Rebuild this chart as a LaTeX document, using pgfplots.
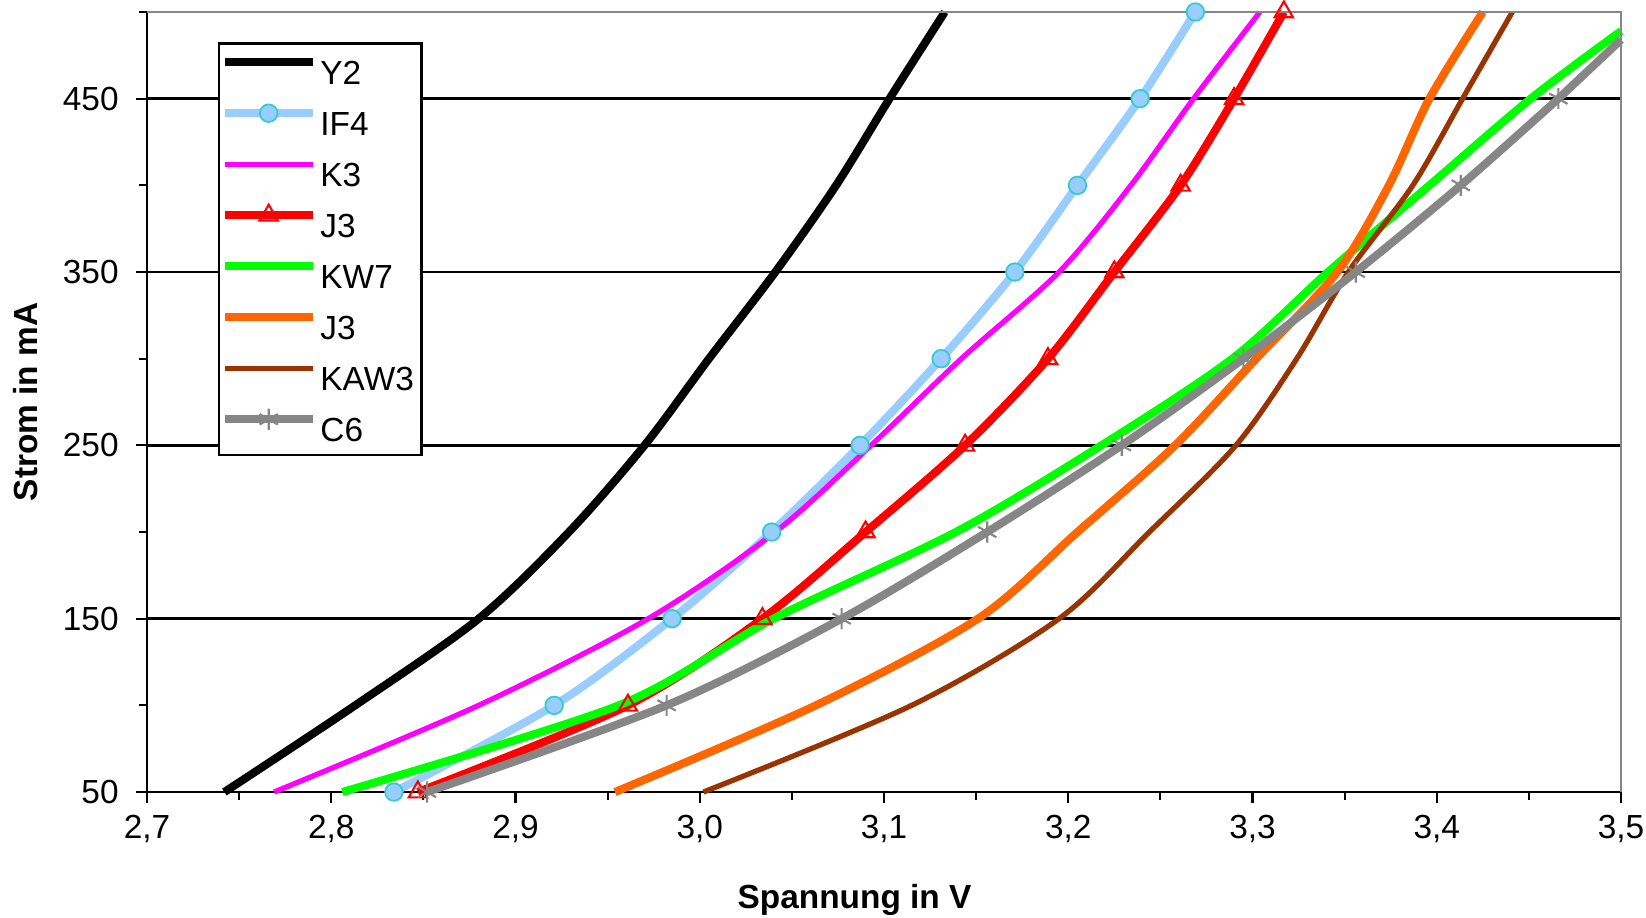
\documentclass[border=0pt]{standalone}
\usepackage{fontspec}
\setmainfont{Liberation Sans}
\usepackage{pgfplots}
\pgfplotsset{compat=1.18}
\definecolor{ifblue}{RGB}{153,204,255}
\definecolor{ifcyan}{RGB}{51,204,204}
\definecolor{kmag}{RGB}{255,0,255}
\definecolor{jorange}{RGB}{255,102,0}
\definecolor{kbrown}{RGB}{153,51,0}
\definecolor{cgray}{RGB}{134,134,134}
\definecolor{kgreen}{RGB}{0,255,0}
\begin{document}
\begin{tikzpicture}
\begin{axis}[name=ax, scale only axis, width=14.74cm, height=7.80cm,
  xmin=2.7, xmax=3.5, ymin=50, ymax=500,
  axis lines=left, axis line style={-, line width=0.8pt, black},
  xtick={2.7,2.8,2.9,3.0,3.1,3.2,3.3,3.4,3.5},
  minor xtick={2.75,2.85,2.95,3.05,3.15,3.25,3.35,3.45},
  ytick={50,150,250,350,450}, minor ytick={100,200,300,400,500},
  ymajorgrids, major grid style={black, line width=0.8pt},
  tick align=outside, major tick length=1.1mm, minor tick length=0.8mm,
  every tick/.style={black, line width=0.6pt},
  xticklabel style={/pgf/number format/.cd, use comma, fixed, fixed zerofill, precision=1},
  yticklabel style={xshift=-0.5mm},
  /pgf/number format/assume math mode=true,
  tick label style={font=\fontsize{9.5}{11}\selectfont},
  label style={font=\bfseries\fontsize{9.5}{11}\selectfont},
  xlabel={Spannung in V}, ylabel={Strom in mA},
  xlabel style={at={(axis description cs:0.48,-0.1385)}, anchor=center},
  ylabel style={at={(axis description cs:-0.0821,0.5)}, anchor=center},
  clip=false,
  legend cell align=left,
  legend image code/.code={\path[draw=none,fill=none] (0,0) -- (0.94cm,0);
    \draw[overlay,mark repeat=2,mark phase=2,#1] plot coordinates {(0cm,0.85mm) (0.44cm,0.85mm) (0.88cm,0.85mm)};},
  legend style={at={(0.048,0.9615)}, anchor=north west, draw=black, line width=0.75pt, fill=white,
    font=\fontsize{9.5}{11}\selectfont, row sep=1.75mm, inner xsep=1.6pt, inner ysep=3pt,
    nodes={inner sep=0.5pt, text height=2.9mm, text depth=0.1mm},
    column 2/.style={nodes={text width=10.4mm, align=left}}},
]
\addplot[black, line width=2.3pt, smooth, tension=0.5] coordinates {
 (2.742,50) (2.813,100) (2.880,150) (2.929,200) (2.970,250) (3.005,300) (3.041,350) (3.074,400) (3.103,450) (3.133,500)};
\addlegendentry{Y2}
\addplot[ifblue, line width=2.3pt, smooth, tension=0.5, mark=*, mark size=2.5pt, mark options={draw=ifcyan, fill=ifblue, line width=0.5pt}] coordinates {
 (2.834,50) (2.921,100) (2.985,150) (3.039,200) (3.087,250) (3.131,300) (3.171,350) (3.205,400) (3.239,450) (3.269,500)};
\addlegendentry{IF4}
\addplot[kmag, line width=1.5pt, smooth, tension=0.5] coordinates {
 (2.769,50) (2.880,100) (2.972,150) (3.041,200) (3.093,250) (3.142,300) (3.195,350) (3.234,400) (3.268,450) (3.304,500)};
\addlegendentry{K3}
\addplot[red, line width=2.3pt, smooth, tension=0.5, mark=triangle, mark size=3pt, mark options={draw=red, line width=0.6pt}] coordinates {
 (2.847,50) (2.961,100) (3.034,150) (3.090,200) (3.144,250) (3.189,300) (3.225,350) (3.261,400) (3.290,450) (3.317,500)};
\addlegendentry{J3}
\addplot[kgreen, line width=2.3pt, smooth, tension=0.5] coordinates {
 (2.806,50) (2.956,100) (3.040,150) (3.139,200) (3.218,250) (3.289,300) (3.341,350) (3.396,400) (3.451,450) (3.500,489)};
\addlegendentry{KW7}
\addplot[jorange, line width=2.3pt, smooth, tension=0.5] coordinates {
 (2.954,50) (3.063,100) (3.151,150) (3.205,200) (3.258,250) (3.302,300) (3.346,350) (3.374,400) (3.396,450) (3.425,500)};
\addlegendentry{J3}
\addplot[kbrown, line width=1.5pt, smooth, tension=0.5] coordinates {
 (3.002,50) (3.115,100) (3.195,150) (3.244,200) (3.291,250) (3.324,300) (3.352,350) (3.387,400) (3.414,450) (3.441,500)};
\addlegendentry{KAW3}
\addplot[cgray, line width=2.3pt, smooth, tension=0.5, mark=asterisk, mark size=3pt, mark options={draw=cgray, line width=0.6pt}] coordinates {
 (2.852,50) (2.982,100) (3.077,150) (3.156,200) (3.229,250) (3.295,300) (3.356,350) (3.413,400) (3.466,450)};
\addlegendentry{C6}
\addplot[cgray, line width=2.3pt, forget plot] coordinates {(3.466,450) (3.500,484)};
\draw[cgray, line width=0.8pt] (rel axis cs:0,1) -- (rel axis cs:1,1) -- (rel axis cs:1,0);
\end{axis}
\pgfresetboundingbox
\path[use as bounding box] ([xshift=-1.47cm,yshift=-1.25cm]ax.south west) rectangle ([xshift=0.25cm,yshift=0.12cm]ax.north east);
\end{tikzpicture}
\end{document}
